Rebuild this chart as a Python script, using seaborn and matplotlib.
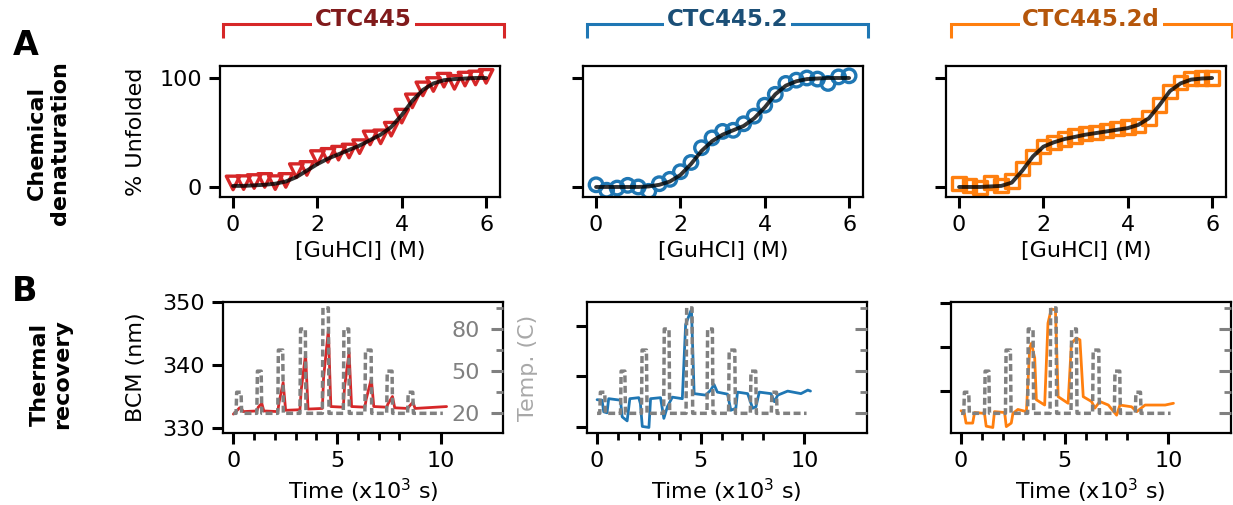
import matplotlib.pyplot as plt
import matplotlib.ticker as mticker
from matplotlib.lines import Line2D
import seaborn as sns

sns.set_theme(style="ticks")
plt.rcParams["font.family"] = ["DejaVu Sans"]
plt.rcParams.update({
    "font.size": 16,
    "axes.labelsize": 16,
    "xtick.labelsize": 16,
    "ytick.labelsize": 16,
    "text.color": "black",
    "axes.labelcolor": "black",
    "xtick.color": "black",
    "ytick.color": "black",
    "axes.linewidth": 1.6,
    "axes.edgecolor": "black",
    "xtick.major.size": 8, "ytick.major.size": 8,
    "xtick.major.width": 2.2, "ytick.major.width": 2.2,
    "xtick.minor.size": 5, "ytick.minor.size": 5,
    "xtick.minor.width": 2.0, "ytick.minor.width": 2.0,
    "xtick.major.pad": 5, "ytick.major.pad": 5,
})

# ── Chemical denaturation (% unfolded vs [GuHCl]) ─────────────────────────
guhcl = [0.0, 0.25, 0.5, 0.75, 1.0, 1.25, 1.5, 1.75, 2.0, 2.25, 2.5, 2.75, 3.0,
         3.25, 3.5, 3.75, 4.0, 4.25, 4.5, 4.75, 5.0, 5.25, 5.5, 5.75, 6.0]

unf_445 = [3.7, 4, 5, 6, 4, 6, 15, 17, 27, 29, 31, 33, 37,
           45, 46, 53, 65, 79, 90, 94, 98, 96, 99, 100, 101.5]
fit_445 = [1, 1, 1.5, 2, 3, 5, 9, 15, 21, 26, 30, 34, 38,
           43, 48, 55, 66, 79, 89, 95, 98, 99, 99.5, 100, 100]

unf_4452 = [2, -3, -1, 1.5, 0, -4, 3, 7, 14, 22.5, 36, 45, 51,
            52, 58, 65, 75, 85, 95, 98, 100, 99, 95, 101, 102]
fit_4452 = [0, 0, 0, 0, 0, 0.5, 2, 5, 11, 21, 33, 42, 48,
            52, 56, 63, 73, 85, 93, 97, 99, 99.5, 100, 100, 100]

unf_4452d = [3, 1.5, -0.5, 4, 1.5, 5.5, 17, 28, 37, 41, 44, 47, 49,
             50, 52, 53.5, 55, 56.5, 63.5, 75, 87.5, 96, 99.5, 100, 100]
fit_4452d = [0, 0, 0, 0.5, 1, 4, 15, 28, 37, 41, 44, 46, 48,
             49.5, 51, 52.5, 54, 57, 63, 75, 88, 95, 98.5, 99.5, 100]

# ── Thermal recovery: temperature program (same for all) ──────────────────
temp_time = [0.0, 0.13, 0.16, 0.37, 0.40, 1.13, 1.16, 1.34, 1.37, 2.14, 2.17, 2.38, 2.41,
             3.21, 3.24, 3.47, 3.50, 4.29, 4.32, 4.58, 4.61, 5.30, 5.33, 5.56, 5.59,
             6.34, 6.37, 6.64, 6.67, 7.39, 7.42, 7.65, 7.68, 8.40, 8.43, 8.65, 8.68, 10.1]
temp_c = [20, 20, 35, 35, 20, 20, 50, 50, 20, 20, 65, 65, 20,
          20, 80, 80, 20, 20, 95, 95, 20, 20, 80, 80, 20,
          20, 65, 65, 20, 20, 50, 50, 20, 20, 35, 35, 20, 20]

# BCM traces
bcm_t_445 = [0.0, 0.13, 0.30, 0.40, 0.48, 1.13, 1.20, 1.37, 1.47, 2.14, 2.20, 2.40, 2.52,
             3.21, 3.27, 3.48, 3.60, 4.29, 4.35, 4.58, 4.70, 5.30, 5.36, 5.58, 5.70,
             6.34, 6.40, 6.65, 6.77, 7.39, 7.45, 7.67, 7.78, 8.40, 8.47, 8.66, 8.76, 10.28]
bcm_445 = [332.2, 332.6, 333.2, 333.0, 332.6, 332.7, 333.3, 333.9, 332.7, 332.6, 334.0, 337.2, 332.8,
           332.9, 336.0, 341.7, 333.0, 333.1, 338.0, 345.5, 333.4, 333.3, 336.5, 342.0, 333.4,
           333.3, 334.5, 337.8, 333.4, 333.3, 333.8, 335.0, 333.2, 333.1, 333.4, 334.1, 333.1, 333.4]

bcm_t_4452 = [0.0, 0.24, 0.32, 0.48, 0.56, 1.13, 1.21, 1.45, 1.58, 2.01, 2.09, 2.18, 2.50,
              2.58, 3.06, 3.22, 3.39, 3.63, 4.11, 4.27, 4.55, 4.68, 5.24, 5.48, 5.64, 5.80,
              6.29, 6.45, 6.69, 6.77, 7.26, 7.50, 7.66, 7.82, 8.38, 8.55, 8.71, 9.19, 9.83,
              10.16, 10.29]
bcm_4452 = [335.4, 335.3, 333.0, 332.8, 335.6, 335.3, 332.0, 331.2, 335.6, 335.8, 334.6, 330.1, 329.9,
            335.6, 335.8, 331.7, 334.0, 335.9, 335.6, 350.3, 353.3, 336.6, 336.3, 337.3, 338.4, 336.9,
            336.5, 333.3, 333.7, 336.9, 336.6, 333.7, 334.0, 336.9, 336.6, 335.0, 336.3, 337.1, 336.6,
            337.3, 337.1]

bcm_t_4452d = [0.0, 0.16, 0.24, 0.56, 0.65, 1.13, 1.21, 1.53, 1.61, 2.10, 2.18, 2.42, 2.50,
               2.74, 3.15, 3.31, 3.39, 3.55, 3.63, 4.03, 4.19, 4.35, 4.55, 4.68, 5.16, 5.32,
               5.56, 5.73, 5.89, 6.29, 6.45, 6.69, 7.10, 7.50, 7.66, 8.22, 8.47, 8.87, 9.84, 10.24]
bcm_4452d = [325.5, 324.9, 322.7, 322.7, 325.1, 324.9, 322.0, 321.7, 325.3, 325.1, 321.9, 322.7, 324.9,
             325.8, 325.3, 339.7, 340.8, 337.5, 328.0, 326.8, 345.4, 348.6, 348.4, 328.7, 327.2, 340.8,
             342.0, 341.6, 328.7, 327.6, 326.1, 327.6, 326.8, 324.5, 326.8, 326.4, 325.3, 326.8, 326.8, 327.2]

names = ["CTC445", "CTC445.2", "CTC445.2d"]
colors = ["#d62728", "#1f77b4", "#ff7f0e"]
dark = ["#801a1b", "#1b4f77", "#b5560b"]
markers = ["v", "o", "s"]
unfolded = [unf_445, unf_4452, unf_4452d]
fits = [fit_445, fit_4452, fit_4452d]
bcm_t = [bcm_t_445, bcm_t_4452, bcm_t_4452d]
bcm = [bcm_445, bcm_4452, bcm_4452d]
bcm_ylims = [(329.2, 350.0), (328.8, 354.75), (320.45, 350.2)]

W, H = 1233, 505
fig = plt.figure(figsize=(W / 100, H / 100), dpi=100)

top_left = [220, 583, 946]
bot_left = [223, 586.7, 950.7]
aw = 280 / W
ah = 131 / H

for i in range(3):
    # ── top row ──
    ax = fig.add_axes([top_left[i] / W, 1 - 197 / H, aw, ah])
    sns.scatterplot(x=guhcl, y=unfolded[i], ax=ax, marker=markers[i], s=95,
                    color=colors[i], facecolor="none", edgecolor=colors[i],
                    linewidth=2.4, zorder=2)
    sns.lineplot(x=guhcl, y=fits[i], ax=ax, color="black", lw=2.8, alpha=0.8,
                 estimator=None, zorder=3)
    ax.set_xlim(-0.31, 6.33)
    ax.set_ylim(-9.2, 111)
    ax.set_xticks([0, 2, 4, 6])
    ax.set_yticks([0, 100])
    ax.set_xlabel("[GuHCl] (M)")
    if i == 0:
        ax.set_ylabel("% Unfolded")
        ax.yaxis.set_label_coords(-0.265, 0.5)
    else:
        ax.set_yticklabels([])

    # ── bottom row ──
    bx = fig.add_axes([bot_left[i] / W, 1 - 433 / H, aw, ah])
    sns.lineplot(x=bcm_t[i], y=bcm[i], ax=bx, color=colors[i], lw=2.0,
                 estimator=None, sort=False)
    bx.set_xlim(-0.5, 13.0)
    bx.set_ylim(*bcm_ylims[i])
    bx.set_xticks([0, 5, 10])
    bx.xaxis.set_minor_locator(mticker.FixedLocator([1, 2, 3, 4, 6, 7, 8]))
    bx.set_yticks([330, 340, 350])
    bx.set_xlabel("Time (x10$^3$ s)")
    if i == 0:
        bx.set_ylabel("BCM (nm)")
        bx.yaxis.set_label_coords(-0.275, 0.5)
    else:
        bx.set_yticklabels([])

    tx = bx.twinx()
    sns.lineplot(x=temp_time, y=temp_c, ax=tx, color="#808080", lw=2.5,
                 linestyle=(0, (2, 1)), estimator=None, sort=False)
    tx.set_ylim(6.0, 99.2)
    tx.set_yticks([20, 50, 80])
    tx.yaxis.set_minor_locator(mticker.FixedLocator([35, 65, 95]))
    tx.tick_params(axis="y", which="major", direction="in", length=9, width=2.2,
                   colors="#808080", pad=-17)
    tx.tick_params(axis="y", which="minor", direction="in", length=5, width=2.0,
                   colors="#808080")
    for sp in tx.spines.values():
        sp.set_visible(False)
    if i == 0:
        for lab in tx.get_yticklabels():
            lab.set_horizontalalignment("right")
        tx.set_ylabel("Temp. (C)", color="#a8a8a8")
        tx.yaxis.set_label_coords(1.055, 0.5)
    else:
        tx.set_yticklabels([])

    # ── bracket title ──
    x0 = bot_left[i] / W
    x1 = (bot_left[i] + 281) / W
    yb = 1 - 24 / H
    ye = 1 - 38 / H
    fig.add_artist(Line2D([x0, x0, x1, x1], [ye, yb, yb, ye], color=colors[i],
                          lw=2.2, solid_joinstyle="miter", solid_capstyle="butt"))
    fig.text((x0 + x1) / 2, 1 - 20 / H, names[i], ha="center", va="center",
             color=dark[i], fontsize=16.5, fontweight="bold",
             bbox=dict(facecolor="white", edgecolor="none", pad=2.0), zorder=5)

fig.text(13 / W, 1 - 55 / H, "A", fontsize=24, fontweight="bold", va="baseline")
fig.text(12 / W, 1 - 301 / H, "B", fontsize=24, fontweight="bold", va="baseline")
fig.text(48 / W, 1 - 143 / H, "Chemical\ndenaturation", rotation=90, ha="center",
         va="center", fontsize=16, fontweight="bold", linespacing=1.2, multialignment="center")
fig.text(51 / W, 1 - 374 / H, "Thermal\nrecovery", rotation=90, ha="center",
         va="center", fontsize=16, fontweight="bold", linespacing=1.2, multialignment="center")

fig.savefig("out.png", dpi=100)
